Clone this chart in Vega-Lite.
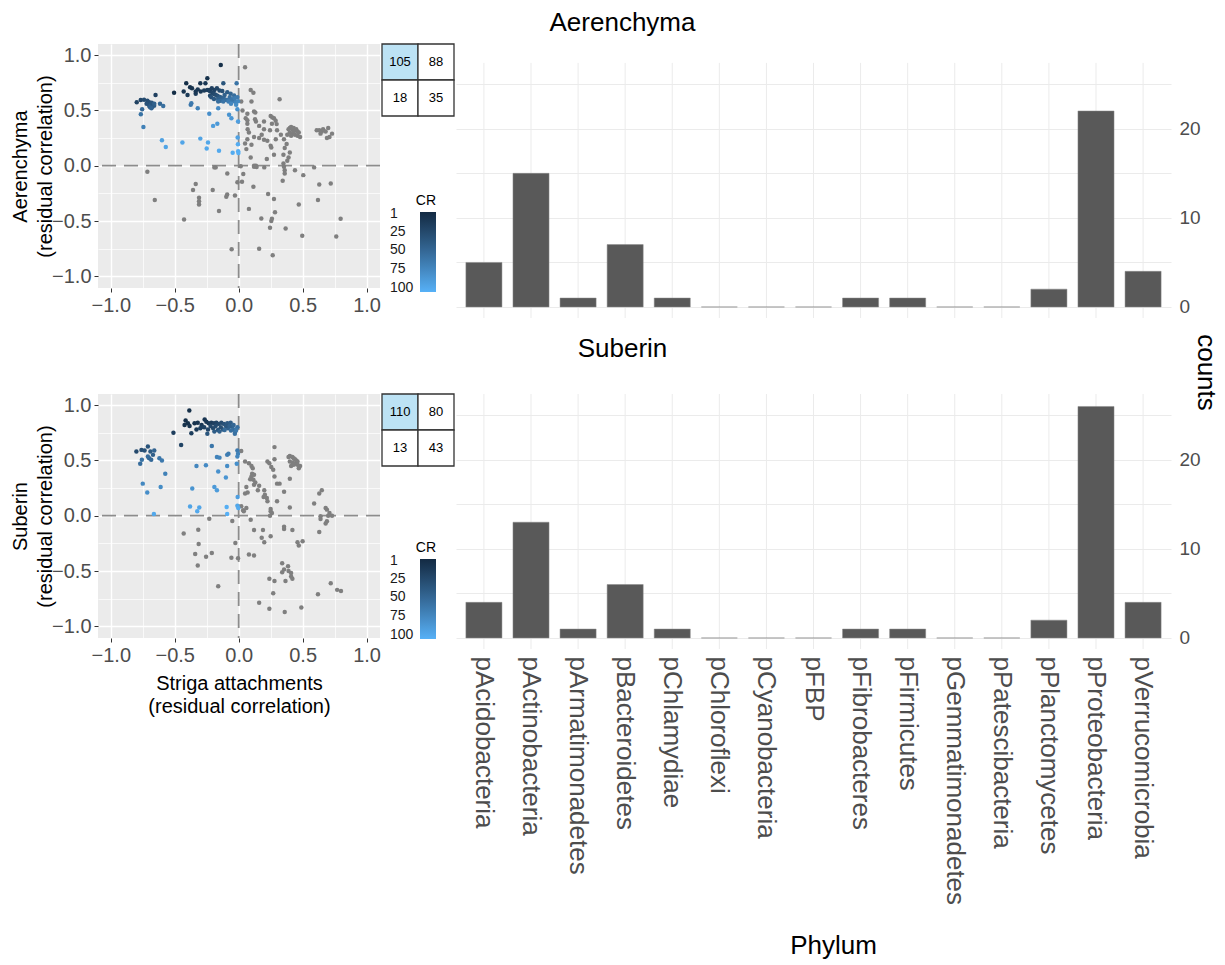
{
"$schema": "https://vega.github.io/schema/vega-lite/v6.json",
"background": "white",
"padding": {"left": 10, "top": 10, "right": 2, "bottom": 2},
"config": {"font": "Liberation Sans", "view": {"stroke": null}, "title": {"fontSize": 26, "fontWeight": "normal", "color": "black"}},
"bounds": "flush",
"columns": 3,
"spacing": {"row": 76, "column": 2},
"resolve": {"scale": {"color": "independent"}, "legend": {"color": "independent"}},
"datasets": {
"aer": [
{"x":-0.14,"y":0.91,"cr":3},{"x":-0.245,"y":0.79,"cr":5},{"x":-0.30,"y":0.745,"cr":8},{"x":-0.41,"y":0.745,"cr":2},{"x":-0.38,"y":0.71,"cr":4},{"x":-0.365,"y":0.70,"cr":6},{"x":-0.26,"y":0.745,"cr":10},{"x":-0.12,"y":0.745,"cr":35},{"x":-0.016,"y":0.745,"cr":60},{"x":-0.505,"y":0.66,"cr":1},{"x":-0.43,"y":0.67,"cr":7},{"x":-0.40,"y":0.64,"cr":12},{"x":-0.336,"y":0.65,"cr":14},{"x":-0.336,"y":0.67,"cr":9},{"x":-0.297,"y":0.67,"cr":11},{"x":-0.27,"y":0.68,"cr":13},{"x":-0.23,"y":0.685,"cr":16},{"x":-0.19,"y":0.685,"cr":20},{"x":-0.15,"y":0.68,"cr":26},{"x":-0.128,"y":0.675,"cr":30},{"x":-0.089,"y":0.665,"cr":40},{"x":-0.063,"y":0.65,"cr":48},{"x":-0.036,"y":0.635,"cr":55},{"x":-0.01,"y":0.62,"cr":65},{"x":-0.245,"y":0.685,"cr":15},{"x":-0.224,"y":0.673,"cr":18},{"x":-0.206,"y":0.66,"cr":22},{"x":-0.193,"y":0.648,"cr":25},{"x":-0.18,"y":0.642,"cr":28},{"x":-0.167,"y":0.633,"cr":32},{"x":-0.154,"y":0.624,"cr":36},{"x":-0.141,"y":0.618,"cr":42},{"x":-0.128,"y":0.609,"cr":46},{"x":-0.115,"y":0.603,"cr":50},{"x":-0.102,"y":0.597,"cr":53},{"x":-0.089,"y":0.594,"cr":58},{"x":-0.063,"y":0.588,"cr":63},{"x":-0.036,"y":0.582,"cr":68},{"x":-0.021,"y":0.573,"cr":72},{"x":-0.005,"y":0.582,"cr":75},{"x":-0.224,"y":0.633,"cr":24},{"x":-0.214,"y":0.618,"cr":33},{"x":-0.193,"y":0.603,"cr":38},{"x":-0.161,"y":0.603,"cr":44},{"x":-0.141,"y":0.588,"cr":52},{"x":-0.32,"y":0.69,"cr":10},{"x":-0.21,"y":0.70,"cr":17},{"x":-0.17,"y":0.70,"cr":21},{"x":-0.11,"y":0.64,"cr":45},{"x":-0.07,"y":0.62,"cr":57},{"x":-0.05,"y":0.60,"cr":62},{"x":-0.03,"y":0.61,"cr":66},{"x":-0.08,"y":0.58,"cr":67},{"x":-0.12,"y":0.58,"cr":60},{"x":-0.16,"y":0.58,"cr":54},{"x":-0.02,"y":0.55,"cr":78},{"x":-0.06,"y":0.56,"cr":74},{"x":-0.797,"y":0.573,"cr":19},{"x":-0.766,"y":0.594,"cr":23},{"x":-0.74,"y":0.597,"cr":27},{"x":-0.714,"y":0.588,"cr":29},{"x":-0.70,"y":0.573,"cr":31},{"x":-0.688,"y":0.552,"cr":34},{"x":-0.674,"y":0.534,"cr":37},{"x":-0.661,"y":0.543,"cr":39},{"x":-0.70,"y":0.543,"cr":41},{"x":-0.693,"y":0.528,"cr":43},{"x":-0.682,"y":0.519,"cr":47},{"x":-0.65,"y":0.64,"cr":17},{"x":-0.615,"y":0.56,"cr":49},{"x":-0.59,"y":0.54,"cr":56},{"x":-0.755,"y":0.51,"cr":51},{"x":-0.765,"y":0.465,"cr":59},{"x":-0.745,"y":0.35,"cr":70},{"x":-0.72,"y":0.56,"cr":33},{"x":-0.68,"y":0.57,"cr":36},{"x":-0.66,"y":0.56,"cr":45},{"x":-0.375,"y":0.55,"cr":61},{"x":-0.37,"y":0.565,"cr":64},{"x":-0.32,"y":0.52,"cr":71},{"x":-0.23,"y":0.47,"cr":80},{"x":-0.16,"y":0.52,"cr":77},{"x":-0.01,"y":0.51,"cr":82},{"x":-0.075,"y":0.46,"cr":84},{"x":-0.057,"y":0.43,"cr":86},{"x":-0.167,"y":0.38,"cr":88},{"x":-0.20,"y":0.36,"cr":90},{"x":-0.005,"y":0.40,"cr":92},{"x":-0.60,"y":0.23,"cr":93},{"x":-0.57,"y":0.17,"cr":96},{"x":-0.44,"y":0.21,"cr":97},{"x":-0.30,"y":0.245,"cr":95},{"x":-0.24,"y":0.21,"cr":98},{"x":-0.25,"y":0.155,"cr":99},{"x":-0.154,"y":0.135,"cr":100},{"x":-0.047,"y":0.118,"cr":101},{"x":-0.008,"y":0.256,"cr":94},{"x":-0.006,"y":0.195,"cr":102},{"x":-0.004,"y":0.13,"cr":103},{"x":-0.002,"y":0.115,"cr":104},
{"x":0.05,"y":0.89},{"x":0.094,"y":0.685},{"x":0.115,"y":0.66},{"x":0.10,"y":0.58},{"x":0.02,"y":0.58},{"x":0.32,"y":0.60},{"x":0.12,"y":0.49},{"x":0.13,"y":0.48},{"x":0.068,"y":0.47},{"x":0.055,"y":0.43},{"x":0.068,"y":0.41},{"x":0.128,"y":0.42},{"x":0.135,"y":0.40},{"x":0.068,"y":0.38},{"x":0.198,"y":0.40},{"x":0.25,"y":0.45},{"x":0.263,"y":0.436},{"x":0.276,"y":0.43},{"x":0.289,"y":0.406},{"x":0.297,"y":0.376},{"x":0.07,"y":0.33},{"x":0.08,"y":0.30},{"x":0.198,"y":0.33},{"x":0.245,"y":0.32},{"x":0.30,"y":0.32},{"x":0.12,"y":0.26},{"x":0.16,"y":0.25},{"x":0.068,"y":0.24},{"x":0.198,"y":0.235},{"x":0.224,"y":0.226},{"x":0.25,"y":0.18},{"x":0.255,"y":0.165},{"x":0.06,"y":0.15},{"x":0.29,"y":0.24},{"x":0.354,"y":0.24},
{"x":0.39,"y":0.33},{"x":0.40,"y":0.34},{"x":0.41,"y":0.35},{"x":0.42,"y":0.33},{"x":0.43,"y":0.34},{"x":0.44,"y":0.32},{"x":0.45,"y":0.33},{"x":0.46,"y":0.31},{"x":0.40,"y":0.30},{"x":0.42,"y":0.29},{"x":0.44,"y":0.28},{"x":0.46,"y":0.27},{"x":0.48,"y":0.26},{"x":0.41,"y":0.27},{"x":0.43,"y":0.31},{"x":0.47,"y":0.30},{"x":0.38,"y":0.28},
{"x":0.375,"y":0.196},{"x":0.276,"y":0.10},{"x":0.35,"y":0.10},{"x":0.39,"y":0.075},{"x":0.094,"y":0.075},{"x":0.22,"y":0.06},{"x":0.40,"y":0.12},{"x":0.38,"y":0.045},
{"x":0.61,"y":0.32},{"x":0.63,"y":0.32},{"x":0.65,"y":0.31},{"x":0.66,"y":0.33},{"x":0.68,"y":0.31},{"x":0.70,"y":0.34},{"x":0.73,"y":0.29},{"x":0.69,"y":0.25},{"x":0.71,"y":0.26},{"x":0.64,"y":0.29},
{"x":0.35,"y":0.02},{"x":0.12,"y":0.0},{"x":0.135,"y":0.0},{"x":0.03,"y":0.50},{"x":0.16,"y":0.36},{"x":0.18,"y":0.28},{"x":0.33,"y":0.28},{"x":0.36,"y":0.16},{"x":0.26,"y":0.38},{"x":0.05,"y":0.20},{"x":0.10,"y":0.19},
{"x":0.016,"y":-0.005},{"x":0.2,"y":-0.015},{"x":0.354,"y":-0.01},{"x":0.36,"y":-0.04},{"x":0.44,"y":-0.04},{"x":0.59,"y":-0.015},{"x":0.505,"y":-0.085},{"x":0.36,"y":-0.07},{"x":0.036,"y":-0.075},{"x":0.026,"y":-0.145},{"x":0.115,"y":-0.19},{"x":0.344,"y":-0.136},{"x":0.63,"y":-0.17},{"x":0.72,"y":-0.16},{"x":0.23,"y":-0.256},{"x":0.276,"y":-0.30},{"x":0.47,"y":-0.35},{"x":0.62,"y":-0.31},{"x":0.08,"y":-0.39},{"x":0.284,"y":-0.42},{"x":0.177,"y":-0.477},{"x":0.255,"y":-0.50},{"x":0.26,"y":-0.48},{"x":0.245,"y":-0.56},{"x":0.367,"y":-0.567},{"x":0.497,"y":-0.633},{"x":0.763,"y":-0.64},{"x":0.797,"y":-0.48},{"x":0.16,"y":-0.75},{"x":0.266,"y":-0.81},{"x":0.12,"y":-0.01},{"x":0.14,"y":-0.012},
{"x":-0.714,"y":-0.054},{"x":-0.656,"y":-0.31},{"x":-0.427,"y":-0.486},{"x":-0.336,"y":-0.166},{"x":-0.357,"y":-0.22},{"x":-0.31,"y":-0.29},{"x":-0.31,"y":-0.32},{"x":-0.31,"y":-0.35},{"x":-0.203,"y":-0.22},{"x":-0.154,"y":-0.41},{"x":-0.19,"y":-0.015},{"x":-0.18,"y":-0.015},{"x":-0.089,"y":-0.07},{"x":-0.09,"y":-0.26},{"x":-0.097,"y":-0.28},{"x":-0.029,"y":-0.27},{"x":-0.01,"y":-0.15},{"x":-0.055,"y":-0.754}
],
"sub": [
{"x":-0.386,"y":0.95,"cr":2},{"x":-0.415,"y":0.86,"cr":1},{"x":-0.397,"y":0.835,"cr":3},{"x":-0.423,"y":0.82,"cr":4},{"x":-0.384,"y":0.81,"cr":6},{"x":-0.345,"y":0.835,"cr":5},{"x":-0.32,"y":0.84,"cr":7},{"x":-0.29,"y":0.82,"cr":9},{"x":-0.266,"y":0.87,"cr":8},{"x":-0.253,"y":0.85,"cr":10},{"x":-0.235,"y":0.835,"cr":12},{"x":-0.214,"y":0.84,"cr":14},{"x":-0.193,"y":0.835,"cr":17},{"x":-0.175,"y":0.84,"cr":20},{"x":-0.157,"y":0.83,"cr":24},{"x":-0.136,"y":0.84,"cr":28},{"x":-0.115,"y":0.83,"cr":33},{"x":-0.089,"y":0.835,"cr":38},{"x":-0.063,"y":0.84,"cr":42},{"x":-0.052,"y":0.805,"cr":48},{"x":-0.037,"y":0.78,"cr":55},{"x":-0.026,"y":0.76,"cr":60},{"x":-0.084,"y":0.79,"cr":46},{"x":-0.123,"y":0.78,"cr":40},{"x":-0.162,"y":0.775,"cr":35},{"x":-0.2,"y":0.79,"cr":26},{"x":-0.24,"y":0.78,"cr":22},{"x":-0.287,"y":0.805,"cr":13},{"x":-0.33,"y":0.78,"cr":11},{"x":-0.37,"y":0.745,"cr":15},{"x":-0.51,"y":0.75,"cr":16},{"x":-0.45,"y":0.64,"cr":21},{"x":-0.245,"y":0.74,"cr":36},{"x":-0.03,"y":0.74,"cr":58},{"x":-0.21,"y":0.63,"cr":62},
{"x":-0.30,"y":0.79,"cr":18},{"x":-0.27,"y":0.80,"cr":19},{"x":-0.22,"y":0.81,"cr":23},{"x":-0.18,"y":0.81,"cr":27},{"x":-0.14,"y":0.80,"cr":31},{"x":-0.10,"y":0.81,"cr":37},{"x":-0.07,"y":0.81,"cr":44},{"x":-0.04,"y":0.82,"cr":50},{"x":-0.01,"y":0.80,"cr":57},{"x":-0.11,"y":0.775,"cr":52},{"x":-0.06,"y":0.77,"cr":56},{"x":-0.15,"y":0.76,"cr":45},{"x":-0.19,"y":0.76,"cr":41},{"x":-0.02,"y":0.775,"cr":63},
{"x":-0.80,"y":0.58,"cr":25},{"x":-0.76,"y":0.595,"cr":29},{"x":-0.736,"y":0.59,"cr":32},{"x":-0.71,"y":0.625,"cr":34},{"x":-0.69,"y":0.58,"cr":39},{"x":-0.67,"y":0.55,"cr":43},{"x":-0.66,"y":0.59,"cr":47},{"x":-0.70,"y":0.52,"cr":49},{"x":-0.684,"y":0.505,"cr":51},{"x":-0.71,"y":0.535,"cr":53},{"x":-0.77,"y":0.47,"cr":54},{"x":-0.757,"y":0.505,"cr":59},{"x":-0.62,"y":0.52,"cr":61},{"x":-0.60,"y":0.50,"cr":64},{"x":-0.574,"y":0.38,"cr":70},
{"x":-0.75,"y":0.29,"cr":75},{"x":-0.715,"y":0.21,"cr":80},{"x":-0.61,"y":0.26,"cr":78},{"x":-0.663,"y":0.015,"cr":99},{"x":-0.363,"y":0.246,"cr":84},{"x":-0.38,"y":0.084,"cr":96},{"x":-0.308,"y":0.075,"cr":97},{"x":-0.324,"y":0.04,"cr":100},{"x":-0.33,"y":0.45,"cr":74},{"x":-0.256,"y":0.456,"cr":77},{"x":-0.17,"y":0.53,"cr":71},{"x":-0.15,"y":0.525,"cr":72},{"x":-0.09,"y":0.55,"cr":68},{"x":-0.08,"y":0.56,"cr":66},{"x":-0.09,"y":0.45,"cr":79},{"x":-0.16,"y":0.40,"cr":82},{"x":-0.10,"y":0.345,"cr":85},{"x":-0.19,"y":0.26,"cr":88},{"x":-0.17,"y":0.23,"cr":90},{"x":-0.01,"y":0.59,"cr":65},{"x":-0.005,"y":0.56,"cr":69},{"x":-0.01,"y":0.535,"cr":73},{"x":-0.015,"y":0.47,"cr":81},{"x":-0.008,"y":0.17,"cr":92},{"x":-0.01,"y":0.09,"cr":98},{"x":-0.003,"y":0.07,"cr":101},{"x":-0.094,"y":0.078,"cr":103},{"x":-0.09,"y":0.015,"cr":105},
{"x":0.02,"y":0.585},{"x":0.05,"y":0.49},{"x":0.08,"y":0.475},{"x":0.10,"y":0.45},{"x":0.11,"y":0.43},{"x":0.105,"y":0.38},{"x":0.12,"y":0.37},{"x":0.10,"y":0.355},{"x":0.09,"y":0.33},{"x":0.115,"y":0.325},{"x":0.28,"y":0.62},{"x":0.28,"y":0.51},{"x":0.225,"y":0.49},{"x":0.24,"y":0.475},{"x":0.255,"y":0.44},{"x":0.27,"y":0.415},{"x":0.28,"y":0.355},
{"x":0.39,"y":0.53},{"x":0.40,"y":0.54},{"x":0.42,"y":0.53},{"x":0.43,"y":0.52},{"x":0.44,"y":0.51},{"x":0.45,"y":0.50},{"x":0.46,"y":0.49},{"x":0.40,"y":0.49},{"x":0.42,"y":0.48},{"x":0.44,"y":0.47},{"x":0.46,"y":0.46},{"x":0.48,"y":0.45},{"x":0.41,"y":0.45},{"x":0.47,"y":0.43},{"x":0.43,"y":0.46},
{"x":0.40,"y":0.335},{"x":0.30,"y":0.29},{"x":0.32,"y":0.29},{"x":0.06,"y":0.26},{"x":0.05,"y":0.2},{"x":0.07,"y":0.21},{"x":0.15,"y":0.23},{"x":0.20,"y":0.23},{"x":0.205,"y":0.19},{"x":0.195,"y":0.17},{"x":0.22,"y":0.16},{"x":0.225,"y":0.13},{"x":0.355,"y":0.216},{"x":0.30,"y":0.13},{"x":0.40,"y":0.075},{"x":0.25,"y":0.04},{"x":0.26,"y":0.025},{"x":0.245,"y":0.0},{"x":0.02,"y":0.085},{"x":0.06,"y":0.07},{"x":0.035,"y":0.05},{"x":0.04,"y":0.04},{"x":0.63,"y":0.2},{"x":0.65,"y":0.23},{"x":0.59,"y":0.11},{"x":0.68,"y":0.07},{"x":0.69,"y":0.055},{"x":0.71,"y":0.025},{"x":0.70,"y":0.0},{"x":0.73,"y":0.0},{"x":0.68,"y":-0.07},{"x":0.69,"y":-0.05},{"x":0.64,"y":-0.03},{"x":0.64,"y":-0.005},{"x":0.25,"y":0.06},{"x":0.12,"y":0.28},{"x":0.13,"y":0.30},{"x":0.16,"y":0.27},
{"x":0.094,"y":-0.036},{"x":0.12,"y":-0.13},{"x":0.19,"y":-0.13},{"x":0.25,"y":-0.186},{"x":0.18,"y":-0.2},{"x":0.2,"y":-0.24},{"x":0.355,"y":-0.1},{"x":0.355,"y":-0.12},{"x":0.42,"y":-0.13},{"x":0.46,"y":-0.24},{"x":0.47,"y":-0.27},{"x":0.5,"y":-0.23},{"x":0.63,"y":-0.147},{"x":0.08,"y":-0.35},{"x":0.12,"y":-0.36},
{"x":0.34,"y":-0.43},{"x":0.386,"y":-0.456},{"x":0.355,"y":-0.486},{"x":0.41,"y":-0.517},{"x":0.39,"y":-0.50},{"x":0.34,"y":-0.51},{"x":0.366,"y":-0.59},{"x":0.28,"y":-0.59},{"x":0.24,"y":-0.57},{"x":0.41,"y":-0.55},{"x":0.42,"y":-0.57},{"x":0.27,"y":-0.70},{"x":0.16,"y":-0.787},{"x":0.24,"y":-0.84},{"x":0.36,"y":-0.87},{"x":0.49,"y":-0.83},{"x":0.62,"y":-0.71},{"x":0.72,"y":-0.61},{"x":0.77,"y":-0.67},{"x":0.80,"y":-0.68},
{"x":-0.23,"y":-0.027},{"x":-0.43,"y":-0.16},{"x":-0.316,"y":-0.126},{"x":-0.313,"y":-0.255},{"x":-0.34,"y":-0.345},{"x":-0.255,"y":-0.37},{"x":-0.21,"y":-0.336},{"x":-0.32,"y":-0.45},{"x":-0.16,"y":-0.637},{"x":-0.05,"y":-0.048},{"x":-0.026,"y":-0.246},{"x":-0.057,"y":-0.38},{"x":-0.005,"y":-0.385}
],
"tabA": [{"col":"L","row":"T","n":105,"hl":1},{"col":"R","row":"T","n":88,"hl":0},{"col":"L","row":"B","n":18,"hl":0},{"col":"R","row":"B","n":35,"hl":0}],
"tabS": [{"col":"L","row":"T","n":110,"hl":1},{"col":"R","row":"T","n":80,"hl":0},{"col":"L","row":"B","n":13,"hl":0},{"col":"R","row":"B","n":43,"hl":0}],
"barA": [{"phylum":"pAcidobacteria","count":5},{"phylum":"pActinobacteria","count":15},{"phylum":"pArmatimonadetes","count":1},{"phylum":"pBacteroidetes","count":7},{"phylum":"pChlamydiae","count":1},{"phylum":"pChloroflexi","count":0},{"phylum":"pCyanobacteria","count":0},{"phylum":"pFBP","count":0},{"phylum":"pFibrobacteres","count":1},{"phylum":"pFirmicutes","count":1},{"phylum":"pGemmatimonadetes","count":0},{"phylum":"pPatescibacteria","count":0},{"phylum":"pPlanctomycetes","count":2},{"phylum":"pProteobacteria","count":22},{"phylum":"pVerrucomicrobia","count":4}],
"barS": [{"phylum":"pAcidobacteria","count":4},{"phylum":"pActinobacteria","count":13},{"phylum":"pArmatimonadetes","count":1},{"phylum":"pBacteroidetes","count":6},{"phylum":"pChlamydiae","count":1},{"phylum":"pChloroflexi","count":0},{"phylum":"pCyanobacteria","count":0},{"phylum":"pFBP","count":0},{"phylum":"pFibrobacteres","count":1},{"phylum":"pFirmicutes","count":1},{"phylum":"pGemmatimonadetes","count":0},{"phylum":"pPatescibacteria","count":0},{"phylum":"pPlanctomycetes","count":2},{"phylum":"pProteobacteria","count":26},{"phylum":"pVerrucomicrobia","count":4}]
},
"concat": [
{
 "width": 282, "height": 244,
 "view": {"fill": "#EBEBEB", "stroke": null},
 "resolve": {"axis": {"x": "independent", "y": "independent"}},
 "layer": [
  {"data": {"values": [{}]}, "mark": {"type": "rule", "color": "#8C8C8C", "strokeWidth": 1.8, "strokeDash": [14, 8]}, "encoding": {"x": {"datum": 0, "type": "quantitative", "axis": null, "scale": {"domain": [-1.1, 1.105], "nice": false, "zero": false}}}},
  {"data": {"values": [{}]}, "mark": {"type": "rule", "color": "#8C8C8C", "strokeWidth": 1.8, "strokeDash": [14, 8]}, "encoding": {"y": {"datum": 0, "type": "quantitative", "axis": null, "scale": {"domain": [-1.105, 1.1], "nice": false, "zero": false}}}},
  {"data": {"name": "aer"}, "transform": [{"filter": "!isValid(datum.cr)"}],
   "mark": {"type": "circle", "size": 20, "color": "#7F7F7F", "opacity": 1},
   "encoding": {
    "x": {"field": "x", "type": "quantitative", "axis": {"orient": "bottom", "values": [-1, -0.5, 0, 0.5, 1], "labelExpr": "replace(format(datum.value,'.1f'),'-','−')", "grid": true, "gridColor": "white", "gridWidth": 1.4, "domain": false, "tickSize": 4, "tickColor": "#333333", "labelFontSize": 20, "labelColor": "#4D4D4D", "labelPadding": 3, "title": null}},
    "y": {"field": "y", "type": "quantitative", "axis": {"orient": "left", "values": [-1, -0.5, 0, 0.5, 1], "labelExpr": "replace(format(datum.value,'.1f'),'-','−')", "grid": true, "gridColor": "white", "gridWidth": 1.4, "domain": false, "tickSize": 4, "tickColor": "#333333", "labelFontSize": 20, "labelColor": "#4D4D4D", "labelPadding": 3, "title": ["Aerenchyma", "(residual correlation)"], "titleFontSize": 20, "titleFontWeight": "normal", "titleColor": "black", "titleLineHeight": 25, "titleAngle": 270, "titleBaseline": "top", "titleAlign": "center", "titleX": -88, "titleY": 122}}
   }},
  {"data": {"name": "aer"}, "transform": [{"filter": "isValid(datum.cr)"}],
   "mark": {"type": "circle", "size": 20, "opacity": 1},
   "encoding": {
    "x": {"field": "x", "type": "quantitative", "axis": {"orient": "top", "values": [-0.75, -0.25, 0.25, 0.75], "labels": false, "ticks": false, "domain": false, "grid": true, "gridColor": "white", "gridWidth": 0.7, "title": null}},
    "y": {"field": "y", "type": "quantitative", "axis": {"orient": "right", "values": [-0.75, -0.25, 0.25, 0.75], "labels": false, "ticks": false, "domain": false, "grid": true, "gridColor": "white", "gridWidth": 0.7, "title": null}},
    "color": {"field": "cr", "type": "quantitative", "scale": {"domain": [105.4, -1.3], "range": ["#56B1F7", "#132B43"]},
     "legend": {"title": "CR", "orient": "none", "legendX": 318, "legendY": 150, "direction": "vertical", "gradientLength": 80, "gradientThickness": 16, "gradientStrokeWidth": 0, "values": [1, 25, 50, 75, 100], "labelOverlap": false, "labelOffset": -46, "labelFontSize": 14, "labelColor": "#1A1A1A", "titleFontSize": 14, "titleFontWeight": "normal", "titleColor": "black", "titleAnchor": "end", "titlePadding": 4}}
   }}
 ]
},
{
 "width": 72, "height": 72,
 "data": {"name": "tabA"},
 "encoding": {
  "x": {"field": "col", "type": "nominal", "axis": null, "scale": {"domain": ["L", "R"], "paddingInner": 0, "paddingOuter": 0}},
  "y": {"field": "row", "type": "nominal", "axis": null, "scale": {"domain": ["T", "B"], "paddingInner": 0, "paddingOuter": 0}}
 },
 "layer": [
  {"mark": {"type": "rect", "stroke": "#333333", "strokeWidth": 1.3}, "encoding": {"fill": {"condition": {"test": "datum.hl == 1", "value": "#BCE2F4"}, "value": "white"}}},
  {"mark": {"type": "text", "fontSize": 13, "color": "black"}, "encoding": {"text": {"field": "n"}}}
 ]
},
{
 "width": 715, "height": 274,
 "data": {"name": "barA"},
 "title": {"text": "Aerenchyma", "anchor": "middle", "frame": "group", "dx": -191, "offset": -13, "baseline": "alphabetic"},
 "encoding": {"x": {"field": "phylum", "type": "nominal", "sort": null, "scale": {"paddingInner": 0.234, "paddingOuter": 0.21}, "axis": null}},
 "layer": [
  {"mark": {"type": "rule", "color": "#EBEBEB", "strokeWidth": 1},
   "encoding": {"y": {"datum": -1.24, "type": "quantitative", "scale": {"domain": [-1.24, 29.52], "nice": false, "zero": false}, "axis": {"orient": "right", "values": [0, 5, 10, 15, 20, 25], "labelExpr": "datum.value % 10 === 0 ? datum.label : ''", "grid": true, "gridColor": "#EBEBEB", "gridWidth": 1, "ticks": false, "domain": false, "labelFontSize": 19, "labelColor": "#4D4D4D", "labelPadding": 8, "title": null}}, "y2": {"datum": 27.4}}},
  {"mark": {"type": "bar", "color": "#595959", "stroke": "#8A8A8A", "strokeWidth": 0.5},
   "encoding": {"y": {"field": "count", "type": "quantitative", "axis": {"orient": "right", "values": [0, 5, 10, 15, 20, 25], "labelExpr": "datum.value % 10 === 0 ? datum.label : ''", "grid": true, "gridColor": "#EBEBEB", "gridWidth": 1, "ticks": false, "domain": false, "labelFontSize": 19, "labelColor": "#4D4D4D", "labelPadding": 8, "title": null}}}}
 ]
},
{
 "width": 282, "height": 244,
 "view": {"fill": "#EBEBEB", "stroke": null},
 "resolve": {"axis": {"x": "independent", "y": "independent"}},
 "layer": [
  {"data": {"values": [{}]}, "mark": {"type": "rule", "color": "#8C8C8C", "strokeWidth": 1.8, "strokeDash": [14, 8]}, "encoding": {"x": {"datum": 0, "type": "quantitative", "axis": null, "scale": {"domain": [-1.1, 1.105], "nice": false, "zero": false}}}},
  {"data": {"values": [{}]}, "mark": {"type": "rule", "color": "#8C8C8C", "strokeWidth": 1.8, "strokeDash": [14, 8]}, "encoding": {"y": {"datum": 0, "type": "quantitative", "axis": null, "scale": {"domain": [-1.105, 1.1], "nice": false, "zero": false}}}},
  {"data": {"name": "sub"}, "transform": [{"filter": "!isValid(datum.cr)"}],
   "mark": {"type": "circle", "size": 20, "color": "#7F7F7F", "opacity": 1},
   "encoding": {
    "x": {"field": "x", "type": "quantitative", "axis": {"orient": "bottom", "values": [-1, -0.5, 0, 0.5, 1], "labelExpr": "replace(format(datum.value,'.1f'),'-','−')", "grid": true, "gridColor": "white", "gridWidth": 1.4, "domain": false, "tickSize": 4, "tickColor": "#333333", "labelFontSize": 20, "labelColor": "#4D4D4D", "labelPadding": 3, "title": ["Striga attachments", "(residual correlation)"], "titleFontSize": 20, "titleFontWeight": "normal", "titleColor": "black", "titleLineHeight": 23, "titlePadding": 8}},
    "y": {"field": "y", "type": "quantitative", "axis": {"orient": "left", "values": [-1, -0.5, 0, 0.5, 1], "labelExpr": "replace(format(datum.value,'.1f'),'-','−')", "grid": true, "gridColor": "white", "gridWidth": 1.4, "domain": false, "tickSize": 4, "tickColor": "#333333", "labelFontSize": 20, "labelColor": "#4D4D4D", "labelPadding": 3, "title": ["Suberin", "(residual correlation)"], "titleFontSize": 20, "titleFontWeight": "normal", "titleColor": "black", "titleLineHeight": 25, "titleAngle": 270, "titleBaseline": "top", "titleAlign": "center", "titleX": -88, "titleY": 122}}
   }},
  {"data": {"name": "sub"}, "transform": [{"filter": "isValid(datum.cr)"}],
   "mark": {"type": "circle", "size": 20, "opacity": 1},
   "encoding": {
    "x": {"field": "x", "type": "quantitative", "axis": {"orient": "top", "values": [-0.75, -0.25, 0.25, 0.75], "labels": false, "ticks": false, "domain": false, "grid": true, "gridColor": "white", "gridWidth": 0.7, "title": null}},
    "y": {"field": "y", "type": "quantitative", "axis": {"orient": "right", "values": [-0.75, -0.25, 0.25, 0.75], "labels": false, "ticks": false, "domain": false, "grid": true, "gridColor": "white", "gridWidth": 0.7, "title": null}},
    "color": {"field": "cr", "type": "quantitative", "scale": {"domain": [105.4, -1.3], "range": ["#56B1F7", "#132B43"]},
     "legend": {"title": "CR", "orient": "none", "legendX": 318, "legendY": 147, "direction": "vertical", "gradientLength": 80, "gradientThickness": 16, "gradientStrokeWidth": 0, "values": [1, 25, 50, 75, 100], "labelOverlap": false, "labelOffset": -46, "labelFontSize": 14, "labelColor": "#1A1A1A", "titleFontSize": 14, "titleFontWeight": "normal", "titleColor": "black", "titleAnchor": "end", "titlePadding": 4}}
   }}
 ]
},
{
 "width": 72, "height": 72,
 "data": {"name": "tabS"},
 "encoding": {
  "x": {"field": "col", "type": "nominal", "axis": null, "scale": {"domain": ["L", "R"], "paddingInner": 0, "paddingOuter": 0}},
  "y": {"field": "row", "type": "nominal", "axis": null, "scale": {"domain": ["T", "B"], "paddingInner": 0, "paddingOuter": 0}}
 },
 "layer": [
  {"mark": {"type": "rect", "stroke": "#333333", "strokeWidth": 1.3}, "encoding": {"fill": {"condition": {"test": "datum.hl == 1", "value": "#BCE2F4"}, "value": "white"}}},
  {"mark": {"type": "text", "fontSize": 13, "color": "black"}, "encoding": {"text": {"field": "n"}}}
 ]
},
{
 "width": 715, "height": 255,
 "data": {"name": "barS"},
 "title": {"text": "Suberin", "anchor": "middle", "frame": "group", "dx": -191, "offset": -49, "baseline": "alphabetic"},
 "encoding": {"x": {"field": "phylum", "type": "nominal", "sort": null, "scale": {"paddingInner": 0.234, "paddingOuter": 0.21},
   "axis": {"title": "Phylum", "labelAngle": 90, "labelAlign": "left", "labelBaseline": "middle", "labelFontSize": 26, "labelColor": "#4D4D4D", "labelPadding": 7, "labelOverlap": false, "labelLimit": 400, "ticks": false, "domain": false, "grid": false, "titleFontSize": 26, "titleFontWeight": "normal", "titleColor": "black", "titleBaseline": "top", "titleX": 377, "titleY": 283}}},
 "layer": [
  {"mark": {"type": "rule", "color": "#EBEBEB", "strokeWidth": 1},
   "encoding": {"y": {"datum": -1.24, "type": "quantitative", "scale": {"domain": [-1.24, 27.4], "nice": false, "zero": false}, "axis": {"orient": "right", "values": [0, 5, 10, 15, 20, 25], "labelExpr": "datum.value % 10 === 0 ? datum.label : ''", "grid": true, "gridColor": "#EBEBEB", "gridWidth": 1, "ticks": false, "domain": false, "labelFontSize": 19, "labelColor": "#4D4D4D", "labelPadding": 8, "title": "counts", "titleFontSize": 26, "titleFontWeight": "normal", "titleColor": "black", "titleAngle": 90, "titleAlign": "center", "titleBaseline": "middle", "titleX": 34, "titleY": -22}}, "y2": {"datum": 27.4}}},
  {"mark": {"type": "bar", "color": "#595959", "stroke": "#8A8A8A", "strokeWidth": 0.5},
   "encoding": {"y": {"field": "count", "type": "quantitative", "axis": {"orient": "right", "values": [0, 5, 10, 15, 20, 25], "labelExpr": "datum.value % 10 === 0 ? datum.label : ''", "grid": true, "gridColor": "#EBEBEB", "gridWidth": 1, "ticks": false, "domain": false, "labelFontSize": 19, "labelColor": "#4D4D4D", "labelPadding": 8, "title": "counts", "titleFontSize": 26, "titleFontWeight": "normal", "titleColor": "black", "titleAngle": 90, "titleAlign": "center", "titleBaseline": "middle", "titleX": 34, "titleY": -22}}}}
 ]
}
]
}
